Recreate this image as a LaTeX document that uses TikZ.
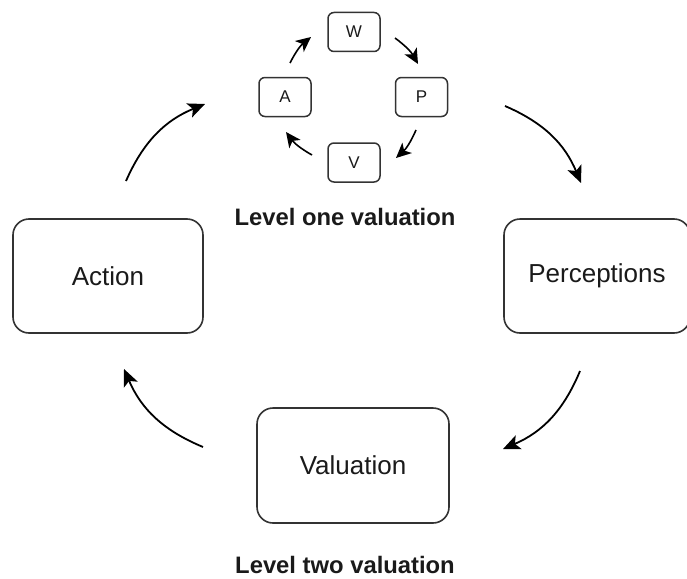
\documentclass[tikz,border=0pt]{standalone}
\usepackage{fontspec}
\setmainfont{Liberation Sans}
\usetikzlibrary{arrows.meta}
\definecolor{edge}{HTML}{333333}
\definecolor{ink}{HTML}{1A1A1A}
\begin{document}
\begin{tikzpicture}[x=1pt,y=-1pt,
  bigbox/.style={draw=edge, line width=1.6pt, rounded corners=16pt, fill=white,
    minimum width=#1, minimum height=114pt, inner sep=0pt, text=ink,
    font=\fontsize{26}{30}\selectfont},
  bigbox/.default=190pt,
  smallbox/.style={draw=edge, line width=1.5pt, rounded corners=6pt, fill=white,
    minimum width=52pt, minimum height=39pt, inner sep=0pt, text=ink,
    font=\fontsize{17}{20}\selectfont},
  caption/.style={text=ink, font=\bfseries\fontsize{23.8}{28}\selectfont},
  flow/.style={draw=black, line width=1.8pt,
    -{Stealth[length=17pt,width=15pt,inset=4pt]}},
  miniflow/.style={draw=black, line width=1.6pt,
    -{Stealth[length=15pt,width=14pt,inset=4pt]}}]
\useasboundingbox (0,0) rectangle (687,578);
\clip (0,0) rectangle (687,578);

% outer loop
\node[bigbox] (act) at (108,276) {Action};
\node[bigbox=186pt] (per) at (597,276) {Perceptions};
\node[bigbox=192pt, minimum height=115pt] (val) at (353,465.5) {Valuation};

% inner loop
\node[smallbox] (w) at (354,32) {W};
\node[smallbox] (a) at (285,97) {A};
\node[smallbox] (p) at (421.5,97) {P};
\node[smallbox] (v) at (354,162.5) {V};

\node[caption] (l1) at (345,217) {Level one valuation};
\node[caption] (l2) at (345,565) {Level two valuation};

% free ends of the outer arrows
\coordinate (o1s) at (126,181);
\coordinate (o1e) at (205,104);
\coordinate (o2s) at (505,106);
\coordinate (o2e) at (581,183);
\coordinate (o3s) at (580,371);
\coordinate (o3e) at (503,449);
\coordinate (o4s) at (203,447);
\coordinate (o4e) at (124,369);

\draw[flow] (o1s) to[bend left=22] (o1e);
\draw[flow] (o2s) to[bend left=22] (o2e);
\draw[flow] (o3s) to[bend left=22] (o3e);
\draw[flow] (o4s) to[bend left=22] (o4e);

% free ends of the inner arrows
\coordinate (i1s) at (290,63);
\coordinate (i1e) at (311,37);
\coordinate (i2s) at (395,38);
\coordinate (i2e) at (418,64);
\coordinate (i3s) at (416,130);
\coordinate (i3e) at (396,158);
\coordinate (i4s) at (312,155);
\coordinate (i4e) at (286,132);

\draw[miniflow] (i1s) to[bend left=12] (i1e);
\draw[miniflow] (i2s) to[bend left=12] (i2e);
\draw[miniflow] (i3s) to[bend left=12] (i3e);
\draw[miniflow] (i4s) to[bend left=12] (i4e);
\end{tikzpicture}
\end{document}
